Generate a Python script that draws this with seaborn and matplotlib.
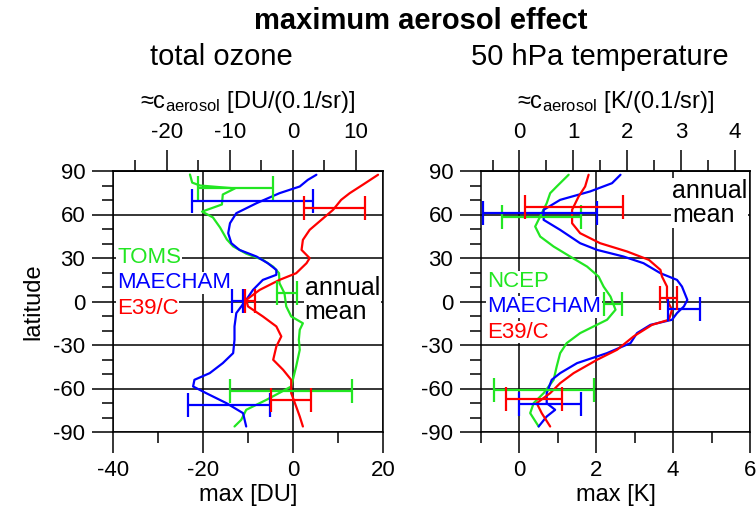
import numpy as np
import pandas as pd
import matplotlib
matplotlib.use('Agg')
import matplotlib.pyplot as plt
import seaborn as sns
from matplotlib.ticker import MultipleLocator

sns.set_style('ticks')
plt.rcParams['font.family'] = ['Liberation Sans', 'DejaVu Sans']
plt.rcParams['mathtext.fontset'] = 'custom'
plt.rcParams['mathtext.rm'] = 'Liberation Sans'
plt.rcParams['mathtext.it'] = 'Liberation Sans:italic'
plt.rcParams['axes.unicode_minus'] = False
for key in ['text.color', 'axes.labelcolor', 'xtick.color', 'ytick.color',
            'xtick.labelcolor', 'ytick.labelcolor']:
    plt.rcParams[key] = 'black'

GREEN, BLUE, RED = '#22e622', '#0000ff', '#ff0000'

# --- total ozone (DU), latitude profiles ---
toms_lat = [87.6, 82, 80, 78, 73.8, 66.9, 62, 58, 51, 42.8, 38, 33, 28.7, 24, 19.5, 12.6,
            5.7, -3.4, -10.3, -15, -19.5, -26.4, -33.3, -44.8, -58.6, -63, -67.8, -74.7, -81.6, -86.2]
toms_val = [-22.9, -22.4, -20.7, -12.9, -15.6, -15.8, -20.2, -17.8, -16.2, -14.7, -13.3, -10.4, -6.7,
            -4.4, -3.1, -3.0, -1.9, -1.5, -0.4, 2.2, 1.5, 1.3, 1.5, 0.7, -0.4, -3.0, -5.9, -10.4, -11.5, -13.0]
mae_oz_lat = [87.4, 83.9, 79.3, 74.7, 67.8, 60.9, 54, 47.1, 40.2, 35.6, 31, 26.4, 21.8, 18.4, 14.9,
              8, 1.1, -8, -17.2, -26.4, -35.6, -42.5, -49.4, -54, -58.6, -63.2, -70.1, -77, -86.2]
mae_oz_val = [5.2, 3.3, 1.5, -3.0, -8.1, -12.6, -14.0, -14.4, -13.7, -11.9, -8.1, -5.6, -3.7, -3.7, -6.7,
              -8.9, -10.4, -12.6, -13.0, -13.0, -13.3, -15.6, -18.5, -21.9, -22.2, -19.3, -14.8, -11.1, -10.4]
e39_oz_lat = [87.4, 80.5, 74.7, 70.1, 63.2, 56.3, 49.4, 42.5, 35.6, 29.9, 26.4, 19.5, 14.9, 8, 1.1,
              -3.4, -10.3, -17.2, -24.1, -31, -40.2, -47.1, -54, -63.2, -72.4, -79.3, -86.2]
e39_oz_val = [18.9, 15.5, 12.6, 10.7, 8.9, 6.3, 3.7, 2.2, 1.9, 3.7, 3.0, 0.7, -3.0, -7.4, -10.4,
              -10.0, -6.7, -3.7, -2.6, -3.7, -4.4, -2.2, -0.4, -0.4, 0.7, 1.5, 2.2]

# error bars (latitude, low, high)
toms_err_lat, toms_err_lo, toms_err_hi = [78, 6, -61.6], [-21.1, -3.5, -14.0], [-4.4, 0.9, 13.1]
mae_oz_err_lat, mae_oz_err_lo, mae_oz_err_hi = [69, 0.2, -71.7], [-22.4, -13.6, -23.3], [4.4, -11.1, -5.2]
e39_oz_err_lat, e39_oz_err_lo, e39_oz_err_hi = [64.8, 0.2, -67.8], [2.4, -10.7, -4.8], [16.1, -8.4, 4.1]

# --- 50 hPa temperature (K) ---
ncep_lat = [87.4, 79.3, 74.7, 67.8, 58.6, 51.7, 44.8, 37.9, 31.0, 24.1, 17.2, 10.3, 3.4, -5.7, -12.6,
            -17.2, -21.8, -28.7, -35.6, -44.8, -54.0, -63.2, -70.1, -77.0, -86.2]
ncep_val = [1.28, 0.97, 0.8, 0.71, 0.54, 0.41, 0.54, 0.89, 1.32, 1.76, 2.06, 2.19, 2.37, 2.5, 2.28,
            1.93, 1.58, 1.23, 1.06, 0.97, 0.89, 0.63, 0.37, 0.28, 0.5]
mae_t_lat = [87.4, 81.6, 75.9, 70.1, 63.2, 56.3, 49.4, 40.2, 35.6, 31.0, 26.4, 19.5, 14.9, 10.3, 1.1,
             -3.4, -8.0, -12.6, -16.1, -21.8, -28.7, -35.6, -42.5, -49.4, -54.0, -63.2, -70.1, -74.7, -79.3, -86.2]
mae_t_val = [2.63, 2.41, 1.84, 1.06, 0.63, 0.63, 1.06, 1.58, 2.02, 2.71, 3.23, 3.67, 4.1, 4.23, 4.37,
             4.28, 4.1, 3.97, 3.41, 3.06, 2.89, 2.28, 1.5, 1.06, 0.84, 0.71, 0.71, 0.93, 0.71, 0.5]
e39_t_lat = [87.4, 79.3, 72.4, 63.2, 54.0, 47.1, 40.2, 34.5, 28.7, 21.8, 17.2, 10.3, 1.1, -5.7, -12.6,
             -16.1, -24.1, -33.3, -40.2, -49.4, -56.3, -63.2, -70.1, -77.0, -86.2]
e39_t_val = [1.8, 1.71, 1.54, 1.37, 1.37, 1.58, 2.1, 2.8, 3.37, 3.67, 3.71, 3.84, 3.84, 3.97, 3.89,
             3.45, 2.97, 2.54, 2.02, 1.41, 1.06, 0.8, 0.45, 0.58, 0.8]

ncep_err_lat, ncep_err_lo, ncep_err_hi = [58, -1.6, -61], [-0.46, 2.21, -0.66], [1.61, 2.67, 1.93]
mae_t_err_lat, mae_t_err_lo, mae_t_err_hi = [61, -5, -71], [-0.94, 3.86, 0.0], [2.03, 4.71, 1.61]
e39_t_err_lat, e39_t_err_lo, e39_t_err_hi = [65.5, 2.3, -67.4], [0.15, 3.67, -0.35], [2.7, 4.1, 1.1]

# factor between "max" axis and the approximate c_aerosol axis
SCALE = 1.4


def draw_panel(ax, curves, errs, labels, xlim, xmajor, xminor, topmajor, topminor, xlabel, toplabel):
    for (lat, val), (name, col) in zip(curves, labels):
        df = pd.DataFrame({'lat': lat, 'val': val})
        sns.lineplot(data=df, x='val', y='lat', sort=False, estimator=None,
                     color=col, lw=1.6, ax=ax, zorder=4)
    for (lat, lo, hi), (name, col) in zip(errs, labels):
        lo, hi = np.array(lo), np.array(hi)
        ax.errorbar((lo + hi) / 2, lat, xerr=(hi - lo) / 2, fmt='none', ecolor=col,
                    elinewidth=1.6, capsize=8.5, capthick=1.6, zorder=5)
    ax.set_xlim(*xlim)
    ax.set_ylim(-90, 90)
    ax.xaxis.set_major_locator(MultipleLocator(xmajor))
    ax.xaxis.set_minor_locator(MultipleLocator(xminor))
    ax.set_yticks(range(-90, 91, 30))
    ax.yaxis.set_minor_locator(MultipleLocator(10))
    ax.grid(True, which='major', color='black', lw=1.1)
    ax.set_axisbelow(True)
    for s in ax.spines.values():
        s.set_linewidth(1.1)
        s.set_color('black')
    ax.tick_params(which='major', direction='out', length=15, width=1.1, labelsize=16, pad=5)
    ax.tick_params(which='minor', direction='out', length=8, width=1.1)
    ax.set_xlabel(xlabel, fontsize=17, labelpad=2)
    ax.set_ylabel('')
    sec = ax.secondary_xaxis('top', functions=(lambda x: x / SCALE, lambda x: x * SCALE))
    sec.xaxis.set_major_locator(MultipleLocator(topmajor))
    sec.xaxis.set_minor_locator(MultipleLocator(topminor))
    sec.tick_params(which='major', direction='out', length=15, width=1.1, labelsize=16, pad=5)
    sec.tick_params(which='minor', direction='out', length=8, width=1.1)
    sec.spines['top'].set_linewidth(1.1)
    sec.spines['top'].set_color('black')
    sec.set_xlabel(toplabel, fontsize=17, labelpad=10)
    return sec


fig = plt.figure(figsize=(7.56, 5.22), dpi=100)
ax1 = fig.add_axes([113 / 756, 90 / 522, 270 / 756, 261 / 522])
ax2 = fig.add_axes([481 / 756, 90 / 522, 269 / 756, 261 / 522])

draw_panel(ax1,
           [(toms_lat, toms_val), (mae_oz_lat, mae_oz_val), (e39_oz_lat, e39_oz_val)],
           [(toms_err_lat, toms_err_lo, toms_err_hi),
            (mae_oz_err_lat, mae_oz_err_lo, mae_oz_err_hi),
            (e39_oz_err_lat, e39_oz_err_lo, e39_oz_err_hi)],
           [('TOMS', GREEN), ('MAECHAM', BLUE), ('E39/C', RED)],
           (-40, 20), 20, 10, 10, 5, 'max [DU]',
           '≈c$_{\\mathrm{aerosol}}$ [DU/(0.1/sr)]')
draw_panel(ax2,
           [(ncep_lat, ncep_val), (mae_t_lat, mae_t_val), (e39_t_lat, e39_t_val)],
           [(ncep_err_lat, ncep_err_lo, ncep_err_hi),
            (mae_t_err_lat, mae_t_err_lo, mae_t_err_hi),
            (e39_t_err_lat, e39_t_err_lo, e39_t_err_hi)],
           [('NCEP', GREEN), ('MAECHAM', BLUE), ('E39/C', RED)],
           (-1, 6), 2, 1, 1, 0.5, 'max [K]',
           '≈c$_{\\mathrm{aerosol}}$ [K/(0.1/sr)]')
ax1.set_ylabel('latitude', fontsize=17, labelpad=6)

box = dict(facecolor='white', edgecolor='none', pad=0.5)
for ax, names, x0, ys in [(ax1, ['TOMS', 'MAECHAM', 'E39/C'], 0.015, [0.67, 0.571, 0.475]),
                          (ax2, ['NCEP', 'MAECHAM', 'E39/C'], 0.022, [0.575, 0.479, 0.383])]:
    for name, col, y in zip(names, [GREEN, BLUE, RED], ys):
        ax.text(x0, y, name, color=col, fontsize=16, ha='left', va='center',
                transform=ax.transAxes, bbox=box, zorder=3)
ax1.text(0.71, 0.506, 'annual\nmean', fontsize=18, ha='left', va='center', linespacing=1.0,
         transform=ax1.transAxes, bbox=box, zorder=3)
ax2.text(0.71, 0.877, 'annual\nmean', fontsize=18, ha='left', va='center', linespacing=1.0,
         transform=ax2.transAxes, bbox=box, zorder=3)

fig.text(421 / 756, 1 - 21 / 522, 'maximum aerosol effect', fontsize=21, fontweight='bold',
         ha='center', va='center')
fig.text(221 / 756, 1 - 57 / 522, 'total ozone', fontsize=21, ha='center', va='center')
fig.text(600 / 756, 1 - 57 / 522, '50 hPa temperature', fontsize=21, ha='center', va='center')

fig.savefig('out.png', dpi=100)
